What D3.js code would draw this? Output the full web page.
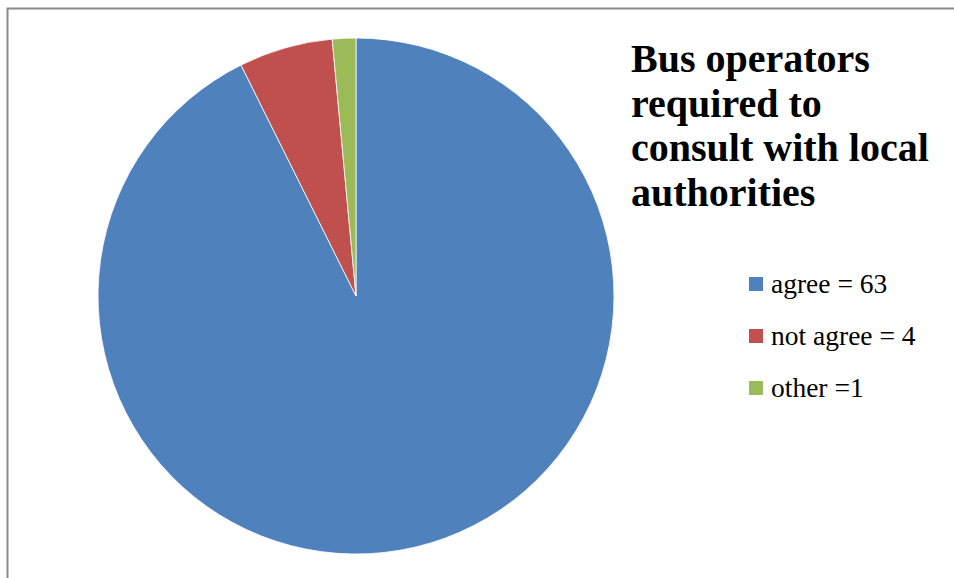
<!DOCTYPE html>
<html>
<head>
<meta charset="utf-8">
<script src="https://cdn.jsdelivr.net/npm/d3@7"></script>
<style>
  body { margin: 0; background: #fff; }
  svg { display: block; }
</style>
</head>
<body>
<svg id="chart" width="954" height="578"></svg>
<script>
// data
const categories = ["agree", "not agree", "other"];
const values = [63, 4, 1];
const legendLabels = ["agree = 63", "not agree = 4", "other =1"];
const titleLines = ["Bus operators", "required to", "consult with local", "authorities"];
const colors = ["#4F81BD", "#C0504D", "#9BBB59"];

const width = 954, height = 578;
const cx = 356, cy = 296, radius = 258;

const svg = d3.select("#chart");

// chart frame (only left and top edges visible)
svg.append("path")
    .attr("d", `M7.5,${height} L7.5,8.5 L${width},8.5`)
    .attr("fill", "none")
    .attr("stroke", "#8a8a8a")
    .attr("stroke-width", 2);

const pie = d3.pie().sort(null).value(d => d);
const arc = d3.arc().innerRadius(0).outerRadius(radius);

svg.append("g")
    .attr("transform", `translate(${cx},${cy})`)
    .selectAll("path")
    .data(pie(values))
    .join("path")
    .attr("d", arc)
    .attr("fill", (d, i) => colors[i])
    .attr("stroke", "#fff")
    .attr("stroke-width", 0.8);

// title
svg.append("text")
    .attr("font-family", "'Liberation Serif', 'DejaVu Serif', serif")
    .attr("font-weight", "bold")
    .attr("font-size", 40)
    .attr("fill", "#000")
    .selectAll("tspan")
    .data(titleLines)
    .join("tspan")
    .attr("x", 631)
    .attr("y", (d, i) => 72 + i * 44.5)
    .text(d => d);

// legend
const legend = svg.append("g")
    .selectAll("g")
    .data(categories)
    .join("g")
    .attr("transform", (d, i) => `translate(749,${277 + i * 52})`);

legend.append("rect")
    .attr("width", 14)
    .attr("height", 14)
    .attr("fill", (d, i) => colors[i]);

legend.append("text")
    .attr("x", 22)
    .attr("y", 16)
    .attr("font-family", "'Liberation Serif', 'DejaVu Serif', serif")
    .attr("font-size", 27.5)
    .attr("fill", "#000")
    .text((d, i) => legendLabels[i]);
</script>
</body>
</html>
